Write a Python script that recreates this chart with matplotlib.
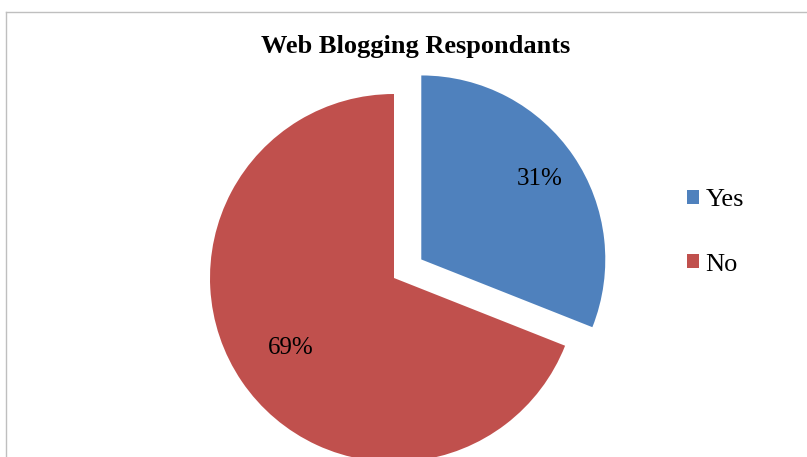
import matplotlib
matplotlib.use('Agg')
import matplotlib.pyplot as plt
import matplotlib.lines as mlines
import numpy as np

labels = ['Yes', 'No']
shares = [31, 69]
colors = ['#4F81BD', '#C0504D']

W, H = 807, 457
plt.rcParams['font.family'] = ['Liberation Serif', 'DejaVu Serif']

fig = plt.figure(figsize=(W / 100, H / 100), dpi=100)
ax = fig.add_axes([0, 0, 1, 1])

# pie geometry in pixel units
cx, cy, rad = 394, H - 278, 184
explode = [33, 0]
wedges, _ = ax.pie(shares, colors=colors, center=(cx, cy), radius=rad,
                   startangle=90, counterclock=False, explode=explode,
                   wedgeprops=dict(linewidth=0), frame=True)
ax.set_xlim(0, W)
ax.set_ylim(0, H)
ax.set_aspect('equal')
ax.axis('off')

# percentage labels inside each wedge
label_r = [0.78, 0.68]
for w, val, fr in zip(wedges, shares, label_r):
    ang = np.deg2rad((w.theta1 + w.theta2) / 2)
    x = w.center[0] + fr * rad * np.cos(ang)
    y = w.center[1] + fr * rad * np.sin(ang)
    ax.text(x, y, f'{val}%', ha='center', va='center', fontsize=18)

fig.text(416 / W, 1 - 47 / H, 'Web Blogging Respondants', ha='center',
         va='center', fontsize=19, fontweight='bold')

fig.legend(wedges, labels, loc='center left',
           bbox_to_anchor=(687 / W, 1 - 232.5 / H), frameon=False,
           fontsize=19, handlelength=0.45, handleheight=0.45,
           handletextpad=0.25, labelspacing=1.6, borderpad=0,
           borderaxespad=0)

# chart area border (runs off the right and bottom edges)
border = '#BFBFBF'
fig.add_artist(mlines.Line2D([6 / W, 1.01], [1 - 12 / H, 1 - 12 / H],
                             color=border, lw=1))
fig.add_artist(mlines.Line2D([6 / W, 6 / W], [1 - 12 / H, -0.01],
                             color=border, lw=1))

fig.savefig('out.png', dpi=100)
